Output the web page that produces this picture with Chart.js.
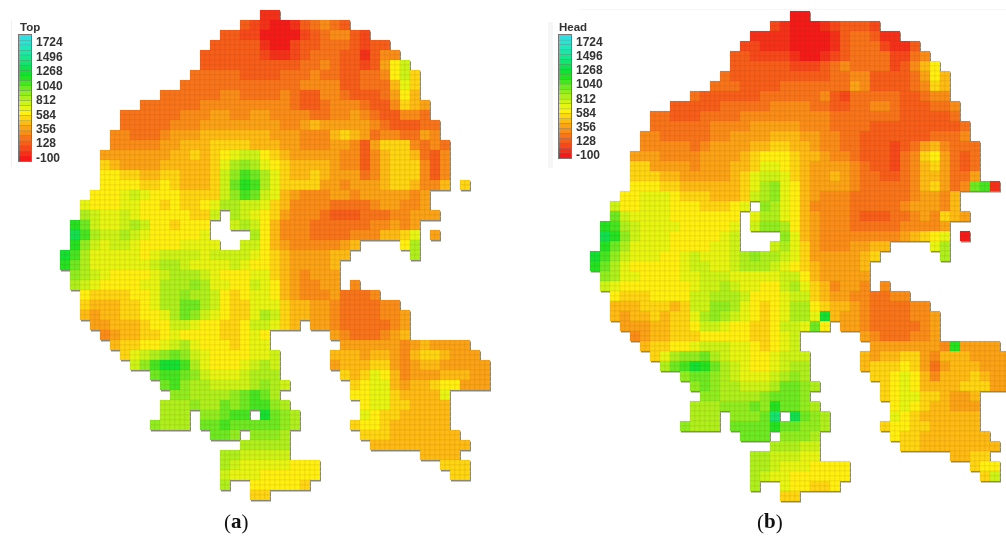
<!DOCTYPE html>
<html>
<head>
<meta charset="utf-8">
<style>
  html, body { margin: 0; padding: 0; background: #fff; }
  canvas { display: block; filter: blur(0.5px); }
</style>
<script src="https://cdn.jsdelivr.net/npm/chart.js@4/dist/chart.umd.min.js"></script>
</head>
<body>
<canvas id="myChart" width="1006" height="539"></canvas>
<script>
// legend labels, top to bottom
const legendTicks = ["1724", "1496", "1268", "1040", "812", "584", "356", "128", "-100"];

// one colour per contour level, code 0 = -100 ... code o (24) = 1724, 76 per level
const levelColors = [
  "#f41a1a", "#f5301a", "#f6481a", "#f75e1a", "#f8741a", "#fa8c18", "#fba316", "#fdbb14", "#fed612",
  "#fff010", "#e6f612", "#ccf416", "#aef01c", "#90ee20", "#6cea22", "#44e622", "#22e222", "#12e032",
  "#10e050", "#12e470", "#16e68c", "#1ae8a4", "#20e8bc", "#28e4d0", "#30e0e0"
];

// level codes (a), one string per row: "startColumn:codes", "." = no cell
const topRows = [
  "20:11",
  "18:32100134543",
  "16:332200002345532",
  "15:333331002334443233",
  "14:33333321123444331355",
  "14:33333333334454332369b",
  "13:444443333444544334459b8",
  "12:4444444444445555334447a8",
  "10:44444455444454335543334697",
  "8:44444455555555543345554335876",
  "6:4444445556655665555445565433554",
  "6:44444555666666665567666665433344",
  "5:554445666777777766655578764554465",
  "5:5555566777888877766555665368885454",
  "4:6666666778789abb9876666655357887435",
  "4:876666777778acdca987777655357888535",
  "4:998877887778bdfeca87787666457888535",
  "4:999988987778begfca88886656667887557 40:8",
  "3:999aba9998888bdfeba765556656666656",
  "2:a999aa9989889accbba8755554444566556",
  "2:cbaaba9999988b.cba986555433344455666",
  "1:gebaabcb998999..bcb9755544444455656.",
  "1:ifcbbcba99999a....c975554444555778a.6",
  "1:gdbabba9999aaaa..bb9765555567 34:9c",
  "0:hfcaaaaa9abbbbabbbba987666677 35:c",
  "0:gecaaaaaabccbaaaaba998766667",
  "1:dcba9999abcccba999aa8765666",
  "1:cba9999aacccdcaa99ba9765566 29:5",
  "2:9888899accdccb989aa97655564445",
  "2:8777889acceecb988aaa877665444455",
  "2:76778899acedba988acb8776654444556",
  "3:66777899bba99889bba87.6654444456",
  "4:5677889a9999889a9 27:65444567",
  "5:78899abca99989aa 28:6666665676666",
  "6:8abcdedba9999aab 27:777677657887666",
  "7:bdfhhfca999abcb 27:6777886567766666",
  "9:effedbaaabccc 28:878a97566677766",
  "10:efdccbbbbcdcb 29:89aa7677899666",
  "11:ddccccdefec 29:99aa87777a",
  "10:cccdccedeffdc 30:9aa887777",
  "10:ccc.ddeff.hedc 30:a98877777",
  "9:dccc.eefeeeeedc 29:8998777777",
  "15:eed.dddc 30:8887777777",
  "18:ccccc 31:7777777777",
  "16:ccbbbbb 36:7777",
  "16:cbaaaaa999 38:888",
  "16:baaa999999 39:88",
  "16:c 19:999998",
  "19:88"
];

// same for map (b)
const headRows = [
  "20:00",
  "18:21000123332",
  "16:111100001344311",
  "15:221110000134442113",
  "14:33222210012344442245",
  "14:333333222345444423579",
  "13:43333333333445533334697",
  "12:444333344444446533334587",
  "10:43333334444445324444433455",
  "8:33333444445555443344554333445",
  "6:4433344445555555554444444333334",
  "6:44444455556666655544443333333334",
  "5:554444455666677766554433333334445",
  "5:5555545666677887765544333234675444",
  "4:66655556666789998776554333245896434",
  "4:8866665666778aa98766665433245786434",
  "4:888776666678abba8766765443345776446",
  "4:999887777778acda976666544444578645ef1",
  "3:99aaa98887778bcda97655544444456657",
  "2:b99aaa9998889a.dca97555544444566657",
  "2:ebaaaa9999999.acca976555433344565876",
  "1:gfcbaaaa99999a.bddc9765554444455556.",
  "1:igdbaaa99999ab....da76555555556789a.0",
  "1:gecaaaa9999aab...bca865556677 34:ac",
  "0:hfdbaaa99abaaabcdccba86666678 35:c",
  "0:geca99999abbaabcccba98766667",
  "1:dcaa9999aabbbaaaaabb9766666",
  "1:ba9999999abbcbaa99bca875665 29:5",
  "2:98889999bbcccb999abb8766554455",
  "2:77788878bbddca989acc987765444455",
  "2:76778788acdcba989accah76654444556",
  "3:66677889bba99889bbae9.6654444456",
  "4:567788899999889ab 27:65444556",
  "5:78899abbbaa989ab 28:66666665g6666",
  "6:8acddecbaa99abbb 27:767788657776666",
  "7:cefhgecba99abcc 27:7888986467776666",
  "9:deedcbaaabcdc 28:889a97577787666",
  "10:dedccbbbceedc 29:89a97777888666",
  "11:ddccccdeeed 29:89aa887667",
  "10:cccdddedgeedc 30:9a9877666",
  "10:ccc.dddej.iedc 30:a98777777",
  "9:dccc.eeeegeeddc 29:8998877777",
  "15:eee.dddc 30:9887777777",
  "18:cccbb 31:8877777777",
  "16:ccbbbaa 36:7788",
  "16:ccbaaa9999 38:899",
  "16:cbaa999999 39:8b",
  "16:c 19:a99889",
  "19:88"
];

const CELL = 10;
const SUB = 5;
const SQUARE_RADIUS = SUB / Math.SQRT2; // chart.js rect point side = radius * sqrt2

// every coded cell is drawn as 2x2 small model cells, like the grid in the picture
function buildCells(rows, originX, originY) {
  let points = [];
  let colors = [];
  rows.forEach((row, r) => {
    row.split(" ").forEach(segment => {
      let parts = segment.split(":");
      let start = parseInt(parts[0]);
      parts[1].split("").forEach((code, i) => {
        if (code === ".") return;
        let left = originX + (start + i) * CELL;
        let top = originY + r * CELL;
        [0, SUB].forEach(dx => {
          [0, SUB].forEach(dy => {
            points.push({ x: left + dx + SUB / 2, y: top + dy + SUB / 2 });
            colors.push(levelColors[parseInt(code, 36)]);
          });
        });
      });
    });
  });
  return { points: points, colors: colors };
}

function mapDataset(cells) {
  return {
    data: cells.points,
    order: 2,
    pointStyle: "rect",
    pointRadius: SQUARE_RADIUS,
    pointBackgroundColor: cells.colors,
    pointBorderColor: "rgba(120,70,0,0.07)",
    pointBorderWidth: 1
  };
}

function shadowDataset(cells) {
  return {
    data: cells.points.map(p => ({ x: p.x + 1, y: p.y + 1.5 })),
    order: 3,
    pointStyle: "rect",
    pointRadius: SQUARE_RADIUS,
    pointBackgroundColor: "#8a8a80",
    pointBorderWidth: 0
  };
}

// colour bar: frame behind, then one short thick line per level
function legendDatasets(xLeft, xRight, yTop, yBottom) {
  let sets = [{
    data: [{ x: (xLeft + xRight) / 2, y: yTop - 1 }, { x: (xLeft + xRight) / 2, y: yBottom + 1 }],
    showLine: true,
    borderColor: "#777",
    borderWidth: xRight - xLeft + 2,
    pointRadius: 0,
    order: 2
  }];
  let step = (yBottom - yTop) / levelColors.length;
  levelColors.forEach((color, i) => {
    let y = yBottom - (i + 0.5) * step;
    sets.push({
      data: [{ x: xLeft, y: y }, { x: xRight, y: y }],
      showLine: true,
      borderColor: color,
      borderWidth: i % 2 ? step - 0.6 : step,
      borderCapStyle: "butt",
      pointRadius: 0,
      order: 1
    });
  });
  return sets;
}

const topCells = buildCells(topRows, 60, 10);
const headCells = buildCells(headRows, 590, 11);

// legend text, captions and the faint panel edges of the source figure
const labelsPlugin = {
  id: "labelsPlugin",
  beforeDatasetsDraw(chart) {
    let ctx = chart.ctx;
    ctx.save();
    ctx.fillStyle = "#f1f1f1";
    ctx.fillRect(11, 20, 1, 147);
    ctx.fillStyle = "#f6f6f6";
    ctx.fillRect(548, 22, 5, 146);
    ctx.fillRect(580, 9, 426, 1);
    ctx.restore();
  },
  afterDatasetsDraw(chart) {
    let ctx = chart.ctx;
    let xs = chart.scales.x;
    let ys = chart.scales.y;
    ctx.save();
    ctx.textBaseline = "middle";
    ctx.fillStyle = "#333";
    ctx.font = "bold 11.5px 'Liberation Sans'";
    ctx.fillText("Top", xs.getPixelForValue(20), ys.getPixelForValue(28));
    ctx.fillText("Head", xs.getPixelForValue(559), ys.getPixelForValue(28));
    ctx.font = "bold 12px 'Liberation Sans'";
    legendTicks.forEach((label, i) => {
      ctx.fillText(label, xs.getPixelForValue(36), ys.getPixelForValue(43 + i * 14.45));
      ctx.fillText(label, xs.getPixelForValue(576), ys.getPixelForValue(43 + i * 14.05));
    });
    // captions, letter in bold
    ctx.fillStyle = "#111";
    [["a", 236], ["b", 769]].forEach(item => {
      let x = xs.getPixelForValue(item[1] - 12);
      let y = ys.getPixelForValue(523);
      ctx.font = "21px 'Liberation Serif'";
      ctx.fillText("(", x, y);
      x += ctx.measureText("(").width;
      ctx.font = "bold 21px 'Liberation Serif'";
      ctx.fillText(item[0], x, y);
      x += ctx.measureText(item[0]).width;
      ctx.font = "21px 'Liberation Serif'";
      ctx.fillText(")", x, y);
    });
    ctx.restore();
  }
};

var ctx = document.getElementById('myChart').getContext('2d');
var myChart = new Chart(ctx, {
  type: 'scatter',
  data: {
    datasets: [
      shadowDataset(topCells),
      mapDataset(topCells),
      shadowDataset(headCells),
      mapDataset(headCells)
    ].concat(legendDatasets(19, 31, 35, 161), legendDatasets(559, 571, 35, 158))
  },
  options: {
    responsive: false,
    animation: false,
    layout: { padding: 0, autoPadding: false },
    plugins: { legend: { display: false }, tooltip: { enabled: false } },
    scales: {
      x: { type: 'linear', min: 0, max: 1006, display: false },
      y: { type: 'linear', min: 0, max: 539, reverse: true, display: false }
    }
  },
  plugins: [labelsPlugin]
});
</script>
</body>
</html>
